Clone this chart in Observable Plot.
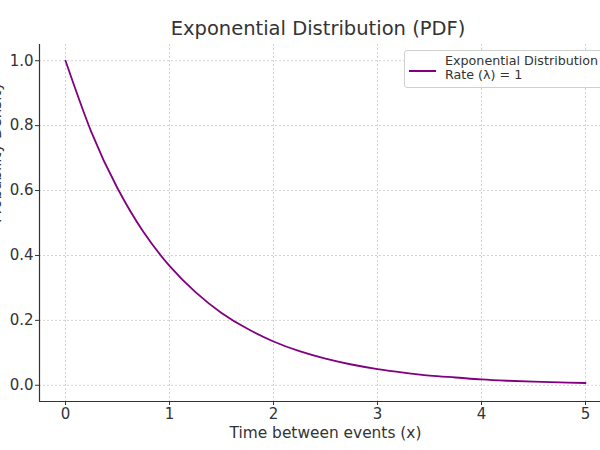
<!DOCTYPE html>
<html>
<head>
<meta charset="utf-8">
<script src="https://cdn.jsdelivr.net/npm/d3@7"></script>
<script src="https://cdn.jsdelivr.net/npm/@observablehq/plot@0.6"></script>
<style>
  html, body { margin: 0; padding: 0; background: #fff; overflow: hidden; width: 600px; height: 450px; }
  body { font-family: "DejaVu Sans", sans-serif; position: relative; }
  #title { height: 40px; line-height: 20px; padding-top: 19px; box-sizing: border-box; width: 600px; padding-left: 36px; text-align: center; font-size: 19.5px; color: #333; white-space: nowrap; }
  #legend { position: absolute; left: 404px; top: 50px; width: 210px; height: 38px; border: 1px solid #d0d0d0; border-radius: 3px; background: rgba(255,255,255,0.85); box-sizing: border-box; }
  #legend .sw { position: absolute; left: 4px; top: 19px; width: 27px; height: 0; border-top: 2px solid #800080; }
  #legend .tx { position: absolute; left: 40px; top: 3px; font-size: 12.7px; line-height: 14px; color: #333; white-space: nowrap; }
  #chart svg { max-width: none !important; }
</style>
</head>
<body>
<div id="title">Exponential Distribution (PDF)</div>
<div id="chart"></div>
<div id="legend"><div class="sw"></div><div class="tx">Exponential Distribution<br>Rate (λ) = 1</div></div>
<script>
const seriesName = "Exponential Distribution\nRate (λ) = 1";
const xValues = [0, 0.25, 0.5, 0.75, 1.0, 1.25, 1.5, 1.75, 2.0, 2.25, 2.5, 2.75, 3.0, 3.25, 3.5, 3.75, 4.0, 4.25, 4.5, 4.75, 5.0];
const yValues = [1.0, 0.779, 0.607, 0.472, 0.368, 0.287, 0.223, 0.174, 0.135, 0.105, 0.082, 0.064, 0.05, 0.039, 0.03, 0.024, 0.018, 0.014, 0.011, 0.009, 0.007];
const xTicks = [0, 1, 2, 3, 4, 5];
const yTicks = [0.0, 0.2, 0.4, 0.6, 0.8, 1.0];
const xDomain = [-0.25, 5.25];
const yDomain = [-0.05, 1.05];
const xLabel = "Time between events (x)";
const yLabel = "Probability Density";

const data = xValues.map((x, i) => ({x, y: yValues[i]}));
const axisColor = "#333";

const chart = Plot.plot({
  width: 611,
  height: 410,
  marginTop: 4,
  marginLeft: 39,
  marginRight: 0,
  marginBottom: 49,
  style: {fontFamily: "DejaVu Sans, sans-serif", fontSize: "15px", color: axisColor, background: "white", overflow: "visible", maxWidth: "none"},
  x: {domain: xDomain},
  y: {domain: yDomain},
  marks: [
    Plot.gridX(xTicks, {stroke: "#b8b8b8", strokeOpacity: 0.8, strokeDasharray: "2,2", strokeWidth: 0.8}),
    Plot.gridY(yTicks, {stroke: "#b8b8b8", strokeOpacity: 0.8, strokeDasharray: "2,2", strokeWidth: 0.8}),
    Plot.ruleX([xDomain[0]], {stroke: axisColor, strokeWidth: 1.2}),
    Plot.ruleY([yDomain[0]], {stroke: axisColor, strokeWidth: 1.2}),
    Plot.axisX(xTicks, {tickSize: 4, tickPadding: 3, stroke: axisColor, fill: axisColor, fontSize: 15, label: null, tickFormat: d => String(d)}),
    Plot.axisY(yTicks, {tickSize: 4, tickPadding: 2, stroke: axisColor, fill: axisColor, fontSize: 15, label: null, tickFormat: d => d.toFixed(1)}),
    Plot.text([xLabel], {frameAnchor: "bottom", dy: 36, text: d => d, lineAnchor: "bottom", fontSize: 15.4, fill: axisColor}),
    Plot.text([yLabel], {frameAnchor: "left", dx: -39, rotate: -90, text: d => d, lineAnchor: "bottom", fontSize: 15, fill: axisColor}),
    Plot.line(data, {x: "x", y: "y", stroke: "#800080", strokeWidth: 1.8, curve: "natural"})
  ]
});
document.getElementById("chart").appendChild(chart);
</script>
</body>
</html>
